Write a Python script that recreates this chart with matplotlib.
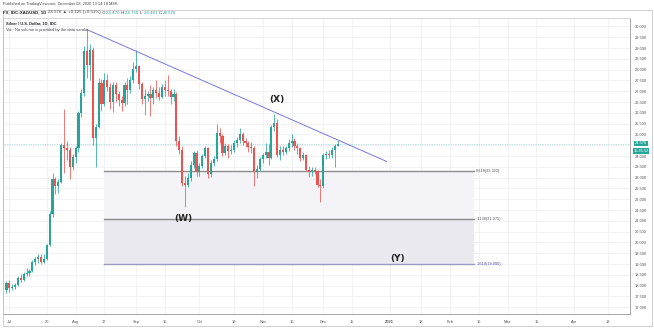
import numpy as np
import matplotlib
matplotlib.use('Agg')
import matplotlib.pyplot as plt
from matplotlib.patches import Rectangle

plt.rcParams['font.family'] = ['Liberation Sans', 'DejaVu Sans']

# ─── Daily OHLC, XAGUSD (index 0 = Jun 30 2020, last = Dec 08 2020) ───
opens = [17.78, 18.12, 17.90, 17.95, 18.05, 18.35, 18.25, 18.55, 18.60, 18.70,
         19.10, 19.25, 19.35, 19.10, 19.25, 19.88, 21.30, 22.95, 22.60, 22.80,
         24.50, 24.35, 24.30, 23.50, 23.95, 24.35, 26.00, 26.90, 28.85, 28.20,
         28.90, 24.85, 25.35, 27.40, 26.40, 27.50, 27.20, 26.50, 27.30, 26.85,
         26.60, 26.45, 27.30, 27.05, 27.50, 28.05, 28.15, 27.35, 26.65, 26.80,
         26.85, 26.70, 27.05, 26.90, 26.75, 27.20, 27.05, 27.00, 26.75, 26.85,
         24.70, 24.30, 22.75, 22.65, 23.00, 23.60, 24.15, 23.25, 23.55, 24.00,
         24.35, 23.15, 23.70, 23.85, 25.05, 24.95, 24.15, 24.45, 24.25, 24.30,
         24.60, 24.75, 25.00, 24.70, 24.60, 24.40, 24.35, 23.25, 23.40, 23.85,
         24.05, 24.20, 23.90, 25.35, 25.55, 24.05, 24.30, 24.20, 24.35, 24.60,
         24.72, 24.45, 24.35, 23.90, 24.05, 23.35, 23.25, 23.35, 23.30, 22.65,
         22.60, 24.05, 24.10, 24.05, 24.30, 24.470]
highs = [18.20, 18.25, 18.10, 18.12, 18.45, 18.55, 18.65, 18.80, 18.75, 19.20,
         19.35, 19.45, 19.45, 19.45, 19.95, 21.45, 23.20, 23.05, 22.95, 24.60,
         26.20, 24.70, 24.40, 24.10, 24.45, 26.10, 27.10, 29.10, 29.85, 29.20,
         29.05, 25.50, 27.60, 27.55, 27.85, 27.80, 27.40, 27.45, 27.45, 27.00,
         26.80, 27.45, 27.60, 27.70, 28.35, 28.90, 28.20, 27.45, 27.10, 27.00,
         27.30, 27.20, 27.50, 27.20, 27.35, 27.50, 27.75, 27.10, 27.10, 26.95,
         24.95, 24.45, 23.10, 23.20, 23.75, 24.25, 24.30, 23.70, 24.10, 24.45,
         24.40, 23.80, 24.00, 25.50, 25.30, 25.00, 24.60, 24.55, 24.50, 24.75,
         24.90, 25.30, 25.10, 24.85, 24.70, 24.65, 24.45, 23.60, 23.95, 24.15,
         24.60, 24.55, 25.45, 25.95, 25.70, 24.45, 24.45, 24.45, 24.80, 25.00,
         24.85, 24.60, 24.40, 24.20, 24.10, 23.55, 23.50, 23.50, 23.35, 22.95,
         24.15, 24.25, 24.30, 24.40, 24.55, 24.750]
lows = [17.65, 17.72, 17.78, 17.85, 18.00, 18.15, 18.20, 18.45, 18.45, 18.65,
        18.95, 19.05, 19.00, 19.05, 19.20, 19.85, 21.20, 22.25, 22.30, 22.75,
        23.20, 23.80, 22.95, 23.35, 23.70, 24.20, 25.80, 26.80, 27.60, 27.50,
        24.50, 23.50, 25.30, 26.10, 26.30, 27.00, 26.20, 26.05, 26.50, 26.30,
        26.10, 26.30, 26.40, 26.90, 27.40, 27.90, 27.10, 26.40, 25.90, 26.55,
        25.85, 26.40, 26.70, 26.60, 26.70, 26.80, 26.80, 26.40, 26.55, 24.45,
        24.10, 22.60, 21.65, 22.55, 22.85, 23.45, 23.10, 23.10, 23.45, 23.90,
        23.00, 23.05, 23.55, 23.75, 24.60, 24.00, 24.05, 23.90, 24.10, 24.20,
        24.40, 24.60, 24.50, 24.40, 24.20, 24.15, 22.60, 23.00, 23.30, 23.70,
        23.90, 23.60, 23.85, 25.15, 23.95, 23.80, 24.05, 24.10, 24.25, 24.40,
        24.30, 24.10, 23.75, 23.80, 23.30, 23.05, 23.10, 23.15, 22.55, 21.88,
        22.50, 23.85, 23.90, 23.90, 23.50, 24.461]
closes = [18.12, 17.90, 17.95, 18.05, 18.35, 18.25, 18.55, 18.60, 18.70, 19.10,
          19.25, 19.35, 19.10, 19.25, 19.88, 21.30, 22.95, 22.60, 22.80, 24.50,
          24.35, 24.30, 23.50, 23.95, 24.35, 26.00, 26.90, 28.85, 28.20, 28.90,
          24.85, 25.35, 27.40, 26.40, 27.50, 27.20, 26.50, 27.30, 26.85, 26.60,
          26.45, 27.30, 27.05, 27.50, 28.05, 28.15, 27.35, 26.65, 26.80, 26.85,
          26.70, 27.05, 26.90, 26.75, 27.20, 27.05, 27.00, 26.75, 26.85, 24.70,
          24.30, 22.75, 22.65, 23.00, 23.60, 24.15, 23.25, 23.55, 24.00, 24.35,
          23.15, 23.70, 23.85, 25.05, 24.95, 24.15, 24.45, 24.25, 24.30, 24.60,
          24.75, 25.00, 24.70, 24.60, 24.40, 24.35, 23.25, 23.40, 23.85, 24.05,
          24.20, 23.90, 25.35, 25.55, 24.05, 24.30, 24.20, 24.35, 24.60, 24.72,
          24.45, 24.35, 23.90, 24.05, 23.35, 23.25, 23.35, 23.30, 22.65, 22.60,
          24.05, 24.10, 24.05, 24.30, 24.451, 24.576]

# time axis labels (bar index of each label)
tick_idx = [1, 14, 24, 34, 45, 55, 67, 79, 89, 99, 110, 120, 133, 144, 154,
            164, 174, 184, 197, 209]
tick_lbl = ['Jul', '20', 'Aug', '17', 'Sep', '15', 'Oct', '19', 'Nov', '16',
            'Dec', '15', '2021', '18', 'Feb', '15', 'Mar', '15', 'Apr', '19']

# fib extension levels
fib_ratio = ['0.618', '1.138', '1.618']
fib_price = [23.323, 21.075, 19.000]
fib_start, fib_end = 33.9, 162.3

# trend line (Aug 07 high -> projected)
trend_x = [28, 132]
trend_y = [29.85, 23.75]

# wave labels
wave_txt = ['(W)', '(X)', '(Y)']
wave_x = [61.3, 93.9, 135.9]
wave_y = [21.09, 26.6, 19.28]

last_price = 24.576

UP, DOWN = '#26a69a', '#ef5350'
GRID = '#eef0f5'

W, H = 654, 328
fig = plt.figure(figsize=(W/100, H/100), dpi=100)
fig.patch.set_facecolor('white')

# plot area in px: x 3..630, y 18..314 (from top)
ax = fig.add_axes([3/W, (H-314)/H, 627/W, 296/H])
ax.set_xlim(-1.2, 216.5)
ax.set_ylim(16.69, 30.39)

# grid
for t in tick_idx:
    ax.axvline(t, color=GRID, lw=0.6, zorder=0)
for p in np.arange(17, 30.01, 0.5):
    ax.axhline(p, color=GRID, lw=0.6, zorder=0)

# fib zones
ax.add_patch(Rectangle((fib_start, fib_price[1]), fib_end-fib_start,
                       fib_price[0]-fib_price[1], color='#f4f4f8', lw=0, zorder=1))
ax.add_patch(Rectangle((fib_start, fib_price[2]), fib_end-fib_start,
                       fib_price[1]-fib_price[2], color='#e9e9ef', lw=0, zorder=1))
fib_col = ['#8c8c8c', '#8c8c8c', '#9a9ac0']
fib_tcol = ['#555555', '#555555', '#4b4b9a']
for r, p, c, tc in zip(fib_ratio, fib_price, fib_col, fib_tcol):
    ax.plot([fib_start, fib_end], [p, p], color=c, lw=1.0, zorder=2)
    ax.text(fib_end + 0.8, p, f'{r}({p:.3f})', fontsize=2.8, color=tc,
            va='center', ha='left', zorder=5)

# candles
for i, (o, h, l, c) in enumerate(zip(opens, highs, lows, closes)):
    col = UP if c >= o else DOWN
    ax.plot([i, i], [l, h], color=col, lw=0.55, zorder=3, solid_capstyle='butt')
    ax.bar(i, max(abs(c-o), 0.02), bottom=min(o, c), width=0.74,
           color=col, lw=0, zorder=4)

# trend line
ax.plot(trend_x, trend_y, color='#7777dd', lw=0.7, zorder=5)

# last price line
ax.axhline(last_price, color=UP, lw=0.5, ls=(0, (1, 1.5)), alpha=0.6, zorder=2)

# wave labels
for s, x, y in zip(wave_txt, wave_x, wave_y):
    ax.text(x, y, s, fontsize=6.5, fontweight='bold', color='#222222',
            ha='center', va='center', family='DejaVu Sans', zorder=6)

# axes styling (24.500 is covered by the price tags)
yt = np.arange(17, 30.01, 0.5)
ax.yaxis.tick_right()
ax.set_yticks(yt)
ax.set_yticklabels(['' if abs(v - 24.5) < 1e-6 else f'{v:.3f}' for v in yt])
ax.set_xticks(tick_idx)
ax.set_xticklabels(tick_lbl)
ax.tick_params(axis='y', length=0, pad=3.5, labelsize=2.9, labelcolor='#555555')
ax.tick_params(axis='x', length=0, pad=4.5, labelsize=2.9, labelcolor='#555555')
for lb in ax.get_xticklabels():
    if lb.get_text() == '2021':
        lb.set_fontweight('bold')
for side in ['left', 'right', 'bottom', 'top']:
    ax.spines[side].set_color('#9a9a9a')
    ax.spines[side].set_linewidth(0.6)
ax.spines['top'].set_color('#d0d0d0')

# price tags on the right
fig.text(641/W, 1 - 143.5/H, '24.576', fontsize=2.9, color='white',
         ha='center', va='center',
         bbox=dict(boxstyle='square,pad=0.2', fc=UP, ec='none'))
fig.text(641/W, 1 - 151/H, '15:45:52', fontsize=2.9, color='white',
         ha='center', va='center',
         bbox=dict(boxstyle='square,pad=0.2', fc=UP, ec='none'))

# outer frame
fig.add_artist(Rectangle((3/W, 2/H), 649/W, 316/H, transform=fig.transFigure,
                         fill=False, ec='#c8c8c8', lw=0.6))

# header texts
rend = fig.canvas.get_renderer()


def runs(x, y, parts, size):
    for s, col, wt in parts:
        t = fig.text(x, y, s, fontsize=size, color=col, fontweight=wt,
                     va='center', ha='left')
        x += t.get_window_extent(rend).width / W


runs(3/W, 1 - 4.5/H, [('Published on TradingView.com, December 08, 2020 13:14:18 MSK',
                       '#444444', 'normal')], 2.8)
runs(3/W, 1 - 12.5/H, [('FX_IDC:XAGUSD, 1D ', '#222222', 'bold'),
                       ('24.576 \u25b2 +0.125 (+0.51%) ', '#444444', 'normal'),
                       ('O:', '#444444', 'normal'), ('24.470 ', UP, 'normal'),
                       ('H:', '#444444', 'normal'), ('24.750 ', UP, 'normal'),
                       ('L:', '#444444', 'normal'), ('24.461 ', UP, 'normal'),
                       ('C:', '#444444', 'normal'), ('24.576', UP, 'normal')], 3.2)
runs(6/W, 1 - 23/H, [('Silver / U.S. Dollar, 1D, IDC', '#222222', 'bold')], 2.9)
runs(6/W, 1 - 30/H, [('Vol \u00b7 No volume is provided by the data vendor',
                      '#444444', 'normal')], 2.9)

fig.savefig('out.png', dpi=100, facecolor='white')
